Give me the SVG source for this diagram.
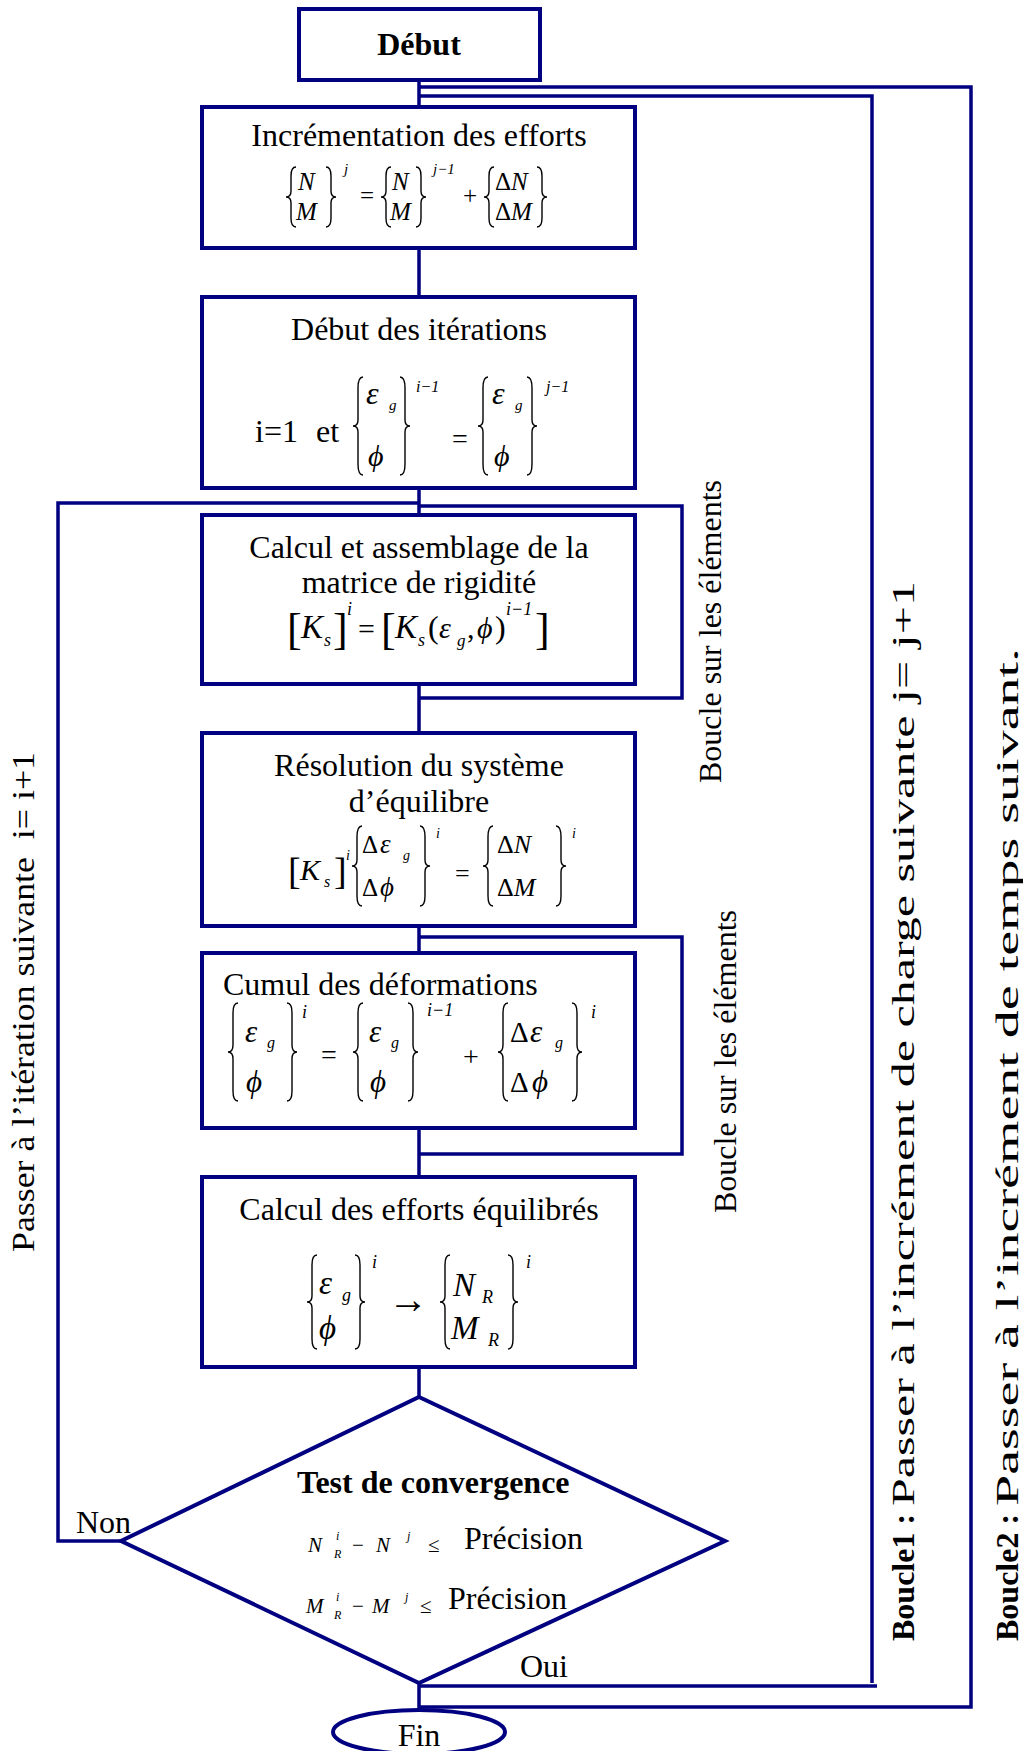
<svg xmlns="http://www.w3.org/2000/svg" width="1023" height="1751" viewBox="0 0 1023 1751">
<style>
.box{fill:#fff;stroke:#000080;stroke-width:4}
.ln{fill:none;stroke:#000080;stroke-width:3.5}
.br{fill:none;stroke:#000;stroke-width:1.4}
text{font-family:"Liberation Serif","Times New Roman",serif;fill:#000}
.t{font-size:32px}
.c{text-anchor:middle}
.b{font-weight:bold}
.i{font-style:italic}
</style>
<rect width="1023" height="1751" fill="#fff"/>
<g id="connectors">
<path class="ln" d="M419 80V107M419 248V297M419 488V515M419 684V733M419 926V953M419 1128V1177M419 1367V1397M419 1683V1710"/>
<path class="ln" d="M419 87H971V1707H419"/>
<path class="ln" d="M419 96H872V1683M419 1686H877"/>
<path class="ln" d="M419 503H58V1541H121"/>
<path class="ln" d="M419 506H682V698H419"/>
<path class="ln" d="M419 937H682V1154H419"/>
</g>
<g id="debut">
<rect class="box" x="299" y="9" width="241" height="71"/>
<text class="t b c" x="419" y="55">Début</text>
</g>
<g id="increment">
<rect class="box" x="202" y="107" width="433" height="141"/>
<text class="t c" x="419" y="146">Incrémentation des efforts</text>
<path class="br" d="M296 167Q291 167 291 176V191Q291 197 286 197Q291 197 291 203V218Q291 227 296 227"/>
<path class="br" d="M326 167Q331 167 331 176V191Q331 197 336 197Q331 197 331 203V218Q331 227 326 227"/>
<text class="i" font-size="25" x="298" y="190">N</text>
<text class="i" font-size="25" x="296" y="220">M</text>
<text class="i" font-size="15" x="344" y="174">j</text>
<text font-size="25" x="360" y="204">=</text>
<path class="br" d="M391 167Q386 167 386 176V191Q386 197 381 197Q386 197 386 203V218Q386 227 391 227"/>
<path class="br" d="M416 167Q421 167 421 176V191Q421 197 426 197Q421 197 421 203V218Q421 227 416 227"/>
<text class="i" font-size="25" x="392" y="190">N</text>
<text class="i" font-size="25" x="390" y="220">M</text>
<text class="i" font-size="15" x="433" y="174">j−1</text>
<text font-size="25" x="463" y="204">+</text>
<path class="br" d="M494 167Q489 167 489 176V191Q489 197 484 197Q489 197 489 203V218Q489 227 494 227"/>
<path class="br" d="M537 167Q542 167 542 176V191Q542 197 547 197Q542 197 542 203V218Q542 227 537 227"/>
<text font-size="25" x="495" y="190">Δ<tspan class="i">N</tspan></text>
<text font-size="25" x="495" y="220">Δ<tspan class="i">M</tspan></text>
</g>
<g id="iterations">
<rect class="box" x="202" y="297" width="433" height="191"/>
<text class="t c" x="419" y="340">Début des itérations</text>
<text class="t" x="255" y="442">i=1</text>
<text class="t" x="316" y="442">et</text>
<path class="br" d="M363 377Q358 377 358 388V420Q358 426 353 426Q358 426 358 432V464Q358 475 363 475"/>
<path class="br" d="M400 377Q405 377 405 388V420Q405 426 410 426Q405 426 405 432V464Q405 475 400 475"/>
<text class="i" font-size="32" x="366" y="404">ε</text>
<text class="i" font-size="15" x="389" y="410">g</text>
<text class="i" font-size="30" x="368" y="466">ϕ</text>
<text class="i" font-size="16" x="416" y="392">i−1</text>
<text font-size="28" x="452" y="448">=</text>
<path class="br" d="M488 377Q483 377 483 388V420Q483 426 478 426Q483 426 483 432V464Q483 475 488 475"/>
<path class="br" d="M527 377Q532 377 532 388V420Q532 426 537 426Q532 426 532 432V464Q532 475 527 475"/>
<text class="i" font-size="32" x="492" y="404">ε</text>
<text class="i" font-size="15" x="515" y="410">g</text>
<text class="i" font-size="30" x="494" y="466">ϕ</text>
<text class="i" font-size="16" x="546" y="392">j−1</text>
</g>
<g id="rigidite">
<rect class="box" x="202" y="515" width="433" height="169"/>
<text class="t c" x="419" y="558">Calcul et assemblage de la</text>
<text class="t c" x="419" y="593">matrice de rigidité</text>
<text font-size="44" x="287" y="644">[</text>
<text class="i" font-size="33" x="301" y="638">K</text>
<text class="i" font-size="18" x="324" y="646">s</text>
<text font-size="44" x="333" y="644">]</text>
<text class="i" font-size="18" x="347" y="615">i</text>
<text font-size="30" x="358" y="639">=</text>
<text font-size="44" x="381" y="644">[</text>
<text class="i" font-size="33" x="395" y="638">K</text>
<text class="i" font-size="18" x="418" y="646">s</text>
<text font-size="32" x="428" y="638">(</text>
<text class="i" font-size="30" x="439" y="638">ε</text>
<text class="i" font-size="17" x="457" y="646">g</text>
<text font-size="30" x="467" y="638">,</text>
<text class="i" font-size="30" x="477" y="638">ϕ</text>
<text font-size="32" x="495" y="638">)</text>
<text class="i" font-size="18" x="506" y="615">i−1</text>
<text font-size="44" x="535" y="644">]</text>
</g>
<g id="resolution">
<rect class="box" x="202" y="733" width="433" height="193"/>
<text class="t c" x="419" y="776">Résolution du système</text>
<text class="t c" x="419" y="812">d’équilibre</text>
<text font-size="38" x="288" y="884">[</text>
<text class="i" font-size="30" x="300" y="880">K</text>
<text class="i" font-size="16" x="324" y="887">s</text>
<text font-size="38" x="334" y="884">]</text>
<text class="i" font-size="14" x="346" y="860">i</text>
<path class="br" d="M362 826Q357 826 357 837V860Q357 866 352 866Q357 866 357 872V896Q357 906 362 906"/>
<path class="br" d="M420 826Q425 826 425 837V860Q425 866 430 866Q425 866 425 872V896Q425 906 420 906"/>
<text font-size="25" x="362" y="853">Δ</text>
<text class="i" font-size="27" x="380" y="853">ε</text>
<text class="i" font-size="14" x="403" y="860">g</text>
<text font-size="25" x="362" y="896">Δ</text>
<text class="i" font-size="27" x="380" y="896">ϕ</text>
<text class="i" font-size="14" x="436" y="838">i</text>
<text font-size="26" x="455" y="882">=</text>
<path class="br" d="M493 826Q488 826 488 837V860Q488 866 483 866Q488 866 488 872V896Q488 906 493 906"/>
<path class="br" d="M556 826Q561 826 561 837V860Q561 866 566 866Q561 866 561 872V896Q561 906 556 906"/>
<text font-size="26" x="497" y="853">Δ<tspan class="i">N</tspan></text>
<text font-size="26" x="497" y="896">Δ<tspan class="i">M</tspan></text>
<text class="i" font-size="14" x="572" y="838">i</text>
</g>
<g id="cumul">
<rect class="box" x="202" y="953" width="433" height="175"/>
<text class="t" x="223" y="995">Cumul des déformations</text>
<path class="br" d="M238 1003Q233 1003 233 1013V1045Q233 1052 228 1052Q233 1052 233 1059V1091Q233 1101 238 1101"/>
<path class="br" d="M287 1003Q292 1003 292 1013V1045Q292 1052 297 1052Q292 1052 292 1059V1091Q292 1101 287 1101"/>
<text class="i" font-size="31" x="245" y="1042">ε</text>
<text class="i" font-size="16" x="267" y="1048">g</text>
<text class="i" font-size="31" x="246" y="1092">ϕ</text>
<text class="i" font-size="18" x="302" y="1018">i</text>
<text font-size="28" x="321" y="1064">=</text>
<path class="br" d="M363 1003Q358 1003 358 1013V1045Q358 1052 353 1052Q358 1052 358 1059V1091Q358 1101 363 1101"/>
<path class="br" d="M408 1003Q413 1003 413 1013V1045Q413 1052 418 1052Q413 1052 413 1059V1091Q413 1101 408 1101"/>
<text class="i" font-size="31" x="369" y="1042">ε</text>
<text class="i" font-size="16" x="391" y="1048">g</text>
<text class="i" font-size="31" x="370" y="1092">ϕ</text>
<text class="i" font-size="18" x="427" y="1016">i−1</text>
<text font-size="28" x="463" y="1066">+</text>
<path class="br" d="M508 1003Q503 1003 503 1013V1045Q503 1052 498 1052Q503 1052 503 1059V1091Q503 1101 508 1101"/>
<path class="br" d="M572 1003Q577 1003 577 1013V1045Q577 1052 582 1052Q577 1052 577 1059V1091Q577 1101 572 1101"/>
<text font-size="29" x="510" y="1042">Δ</text>
<text class="i" font-size="31" x="530" y="1042">ε</text>
<text class="i" font-size="16" x="555" y="1048">g</text>
<text font-size="29" x="510" y="1092">Δ</text>
<text class="i" font-size="31" x="532" y="1092">ϕ</text>
<text class="i" font-size="18" x="591" y="1018">i</text>
</g>
<g id="equilibres">
<rect class="box" x="202" y="1177" width="433" height="190"/>
<text class="t c" x="419" y="1220">Calcul des efforts équilibrés</text>
<path class="br" d="M317 1255Q312 1255 312 1265V1296Q312 1302 307 1302Q312 1302 312 1308V1339Q312 1349 317 1349"/>
<path class="br" d="M355 1255Q360 1255 360 1265V1296Q360 1302 365 1302Q360 1302 360 1308V1339Q360 1349 355 1349"/>
<text class="i" font-size="33" x="319" y="1294">ε</text>
<text class="i" font-size="18" x="342" y="1301">g</text>
<text class="i" font-size="33" x="319" y="1339">ϕ</text>
<text class="i" font-size="18" x="372" y="1268">i</text>
<text font-size="40" x="388" y="1313">→</text>
<path class="br" d="M450 1255Q445 1255 445 1265V1296Q445 1302 440 1302Q445 1302 445 1308V1339Q445 1349 450 1349"/>
<path class="br" d="M508 1255Q513 1255 513 1265V1296Q513 1302 518 1302Q513 1302 513 1308V1339Q513 1349 508 1349"/>
<text class="i" font-size="33" x="453" y="1296">N</text>
<text class="i" font-size="18" x="482" y="1303">R</text>
<text class="i" font-size="33" x="451" y="1339">M</text>
<text class="i" font-size="18" x="488" y="1346">R</text>
<text class="i" font-size="18" x="526" y="1268">i</text>
</g>
<g id="test">
<polygon points="419,1397 725,1541 419,1683 121,1541" fill="#fff" stroke="#000080" stroke-width="4"/>
<text class="b" font-size="32" x="297" y="1493">Test de convergence</text>
<text class="i" font-size="21" x="308" y="1552">N</text>
<text class="i" font-size="12" x="336" y="1540">i</text>
<text class="i" font-size="12" x="334" y="1558">R</text>
<text font-size="21" x="352" y="1552">−</text>
<text class="i" font-size="21" x="376" y="1552">N</text>
<text class="i" font-size="12" x="407" y="1540">j</text>
<text font-size="21" x="428" y="1552">≤</text>
<text class="t" x="464" y="1549">Précision</text>
<text class="i" font-size="21" x="306" y="1613">M</text>
<text class="i" font-size="12" x="336" y="1601">i</text>
<text class="i" font-size="12" x="334" y="1619">R</text>
<text font-size="21" x="352" y="1613">−</text>
<text class="i" font-size="21" x="372" y="1613">M</text>
<text class="i" font-size="12" x="405" y="1601">j</text>
<text font-size="21" x="420" y="1613">≤</text>
<text class="t" x="448" y="1609">Précision</text>
</g>
<g id="fin">
<ellipse cx="419" cy="1732" rx="86" ry="22" fill="#fff" stroke="#000080" stroke-width="4"/>
<text class="t c" x="419" y="1746">Fin</text>
</g>
<g id="labels">
<text class="t" x="76" y="1533">Non</text>
<text class="t" x="520" y="1677">Oui</text>
<text class="t" transform="translate(34,1252) rotate(-90)" xml:space="preserve" textLength="500" lengthAdjust="spacingAndGlyphs">Passer à l’itération suivante  i= i+1</text>
<text class="t" transform="translate(721,783) rotate(-90)">Boucle sur les éléments</text>
<text class="t" transform="translate(736,1213) rotate(-90)">Boucle sur les éléments</text>
<text class="t b" transform="translate(914,1641) rotate(-90)">Boucle1 :</text>
<text class="t" transform="translate(914,1506) rotate(-90)" textLength="925" lengthAdjust="spacingAndGlyphs">Passer à l’incrément de charge suivante j= j+1</text>
<text class="t b" transform="translate(1018,1641) rotate(-90)">Boucle2 :</text>
<text class="t" transform="translate(1018,1506) rotate(-90)" textLength="858" lengthAdjust="spacingAndGlyphs">Passer à l’incrément de temps suivant.</text>
</g>
</svg>
